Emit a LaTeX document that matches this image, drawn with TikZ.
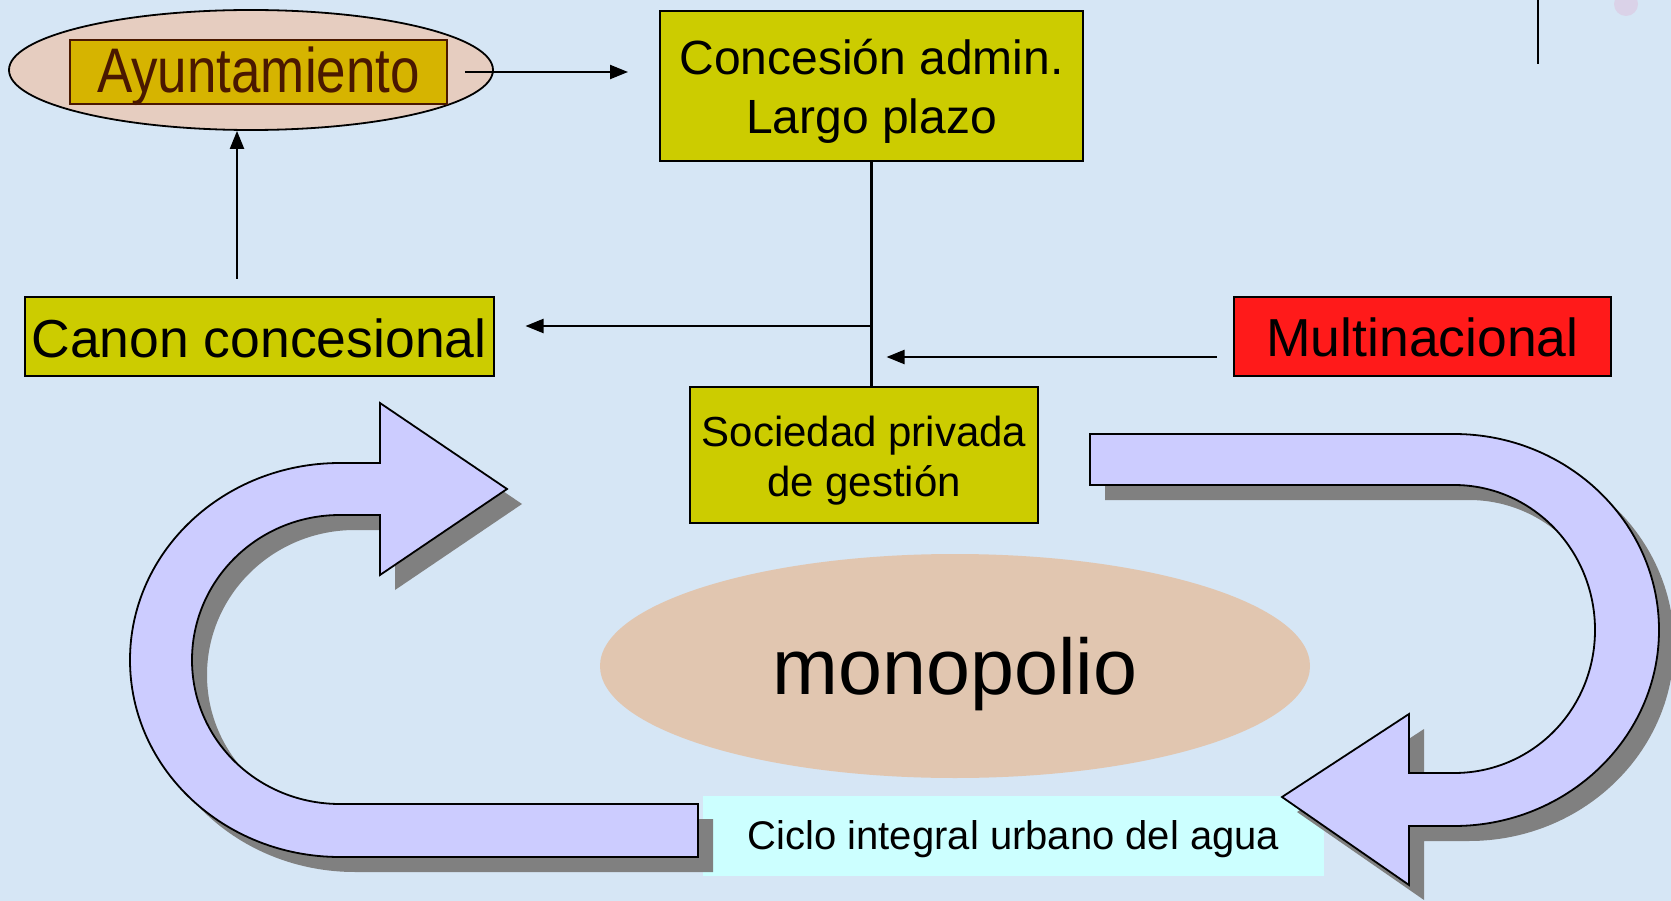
\documentclass[tikz,border=0pt]{standalone}
\usepackage{fontspec}
\setmainfont{Liberation Sans}
\usetikzlibrary{arrows.meta,shapes.geometric}
\definecolor{bgblue}{RGB}{214,230,245}
\definecolor{boxyellow}{RGB}{204,204,0}
\definecolor{ayugold}{RGB}{214,180,0}
\definecolor{ayubrown}{RGB}{74,24,0}
\definecolor{ayuell}{RGB}{230,205,192}
\definecolor{monotan}{RGB}{225,198,176}
\definecolor{multired}{RGB}{255,26,26}
\definecolor{cicloblue}{RGB}{204,255,255}
\definecolor{bandblue}{RGB}{204,204,255}
\definecolor{shadowgray}{RGB}{128,128,128}
\definecolor{pinkdot}{RGB}{218,210,232}
\begin{document}
\begin{tikzpicture}[x=1pt,y=-1pt,
  box/.style={draw=black, line width=2pt, fill=boxyellow, inner sep=0pt, align=center},
  txt/.style={inner sep=0pt, align=center},
  conn/.style={line width=2.2pt, -{Triangle[length=18pt,width=14pt]}},
  band/.style={fill=bandblue, draw=black, line width=1.8pt, line join=miter},
  shade/.style={fill=shadowgray}]
\useasboundingbox (0,0) rectangle (1671,901);
\fill[bgblue] (0,0) rectangle (1671,901);

% top-right fragments
\draw[line width=2.5pt] (1538,0) -- (1538,64);
\fill[pinkdot] (1626,4) circle[radius=12];

% monopolio ellipse
\node[ellipse, fill=monotan, minimum width=710pt, minimum height=224pt, inner sep=0pt] (mono) at (955,666) {};
\node[txt, font=\fontsize{79}{90}\selectfont] (monotext) at ([yshift=-8.5pt]mono.center) {monopolio};

% ciclo label
\node[fill=cicloblue, minimum width=621pt, minimum height=80pt, inner sep=0pt] (ciclo) at (1013.5,836) {};
\node[txt, font=\fontsize{40}{48}\selectfont] (ciclotext) at ([yshift=-3pt]ciclo.center) {Ciclo integral urbano del agua};

% shadows of the curved arrows
\begin{scope}[shift={(15,15)}]
\fill[shade] (698,857) -- (340,857) .. controls (224,857) and (130,769) .. (130,660)
  .. controls (130,551) and (224,463) .. (340,463) -- (380,463) -- (380,403) -- (507,489)
  -- (380,575) -- (380,515) -- (340,515) .. controls (258,515) and (192,580) .. (192,660)
  .. controls (192,740) and (258,804) .. (340,804) -- (698,804) -- cycle;
\fill[shade] (1090,434) -- (1454,434) .. controls (1567,434) and (1659,522) .. (1659,630)
  .. controls (1659,738) and (1567,826) .. (1454,826) -- (1409,826) -- (1409,885) -- (1282,797)
  -- (1409,714) -- (1409,773) -- (1454,773) .. controls (1532,773) and (1595,710) .. (1595,630)
  .. controls (1595,550) and (1532,485) .. (1454,485) -- (1090,485) -- cycle;
\end{scope}
% curved arrows
\path[band] (698,857) -- (340,857) .. controls (224,857) and (130,769) .. (130,660)
  .. controls (130,551) and (224,463) .. (340,463) -- (380,463) -- (380,403) -- (507,489)
  -- (380,575) -- (380,515) -- (340,515) .. controls (258,515) and (192,580) .. (192,660)
  .. controls (192,740) and (258,804) .. (340,804) -- (698,804) -- cycle;
\path[band] (1090,434) -- (1454,434) .. controls (1567,434) and (1659,522) .. (1659,630)
  .. controls (1659,738) and (1567,826) .. (1454,826) -- (1409,826) -- (1409,885) -- (1282,797)
  -- (1409,714) -- (1409,773) -- (1454,773) .. controls (1532,773) and (1595,710) .. (1595,630)
  .. controls (1595,550) and (1532,485) .. (1454,485) -- (1090,485) -- cycle;

% Ayuntamiento
\node[ellipse, draw=black, line width=1.8pt, fill=ayuell, minimum width=484pt, minimum height=120pt,
  inner sep=0pt] (ayell) at (251,70) {};
\node[draw=ayubrown, line width=1.5pt, fill=ayugold, minimum width=377pt, minimum height=64pt,
  inner sep=0pt] (ayb) at (258.5,72) {};
\node[txt, text=ayubrown, font=\fontsize{63}{70}\selectfont] (aybtext) at ([yshift=-4pt]ayb.center)
  {\scalebox{0.84}[1]{Ayuntamiento}};

% boxes
\node[box, minimum width=423pt, minimum height=150pt] (conc) at (871.5,86) {};
\node[txt, font=\fontsize{48}{58.6}\selectfont] (conctext) at ([yshift=-5.5pt]conc.center)
  {Concesión admin.\\Largo plazo};
\node[box, minimum width=469pt, minimum height=79pt] (canon) at (259,336.5) {};
\node[txt, font=\fontsize{53.5}{60}\selectfont] (canontext) at ([yshift=-1.5pt]canon.center) {Canon concesional};
\node[box, fill=multired, minimum width=377pt, minimum height=79pt] (multi) at (1422.5,336.5) {};
\node[txt, font=\fontsize{53.5}{60}\selectfont] (multitext) at ([yshift=-1pt]multi.center) {Multinacional};
\node[box, minimum width=347.5pt, minimum height=136pt] (soc) at (864,455) {};
\node[txt, font=\fontsize{42}{50}\selectfont] (soctext) at ([yshift=-5.5pt]soc.center)
  {Sociedad privada\\de gestión};

% connectors
\draw[conn, shorten <=17pt, shorten >=31pt] (ayb.east) -- (conc.west |- ayb.east);
\draw[line width=2.2pt] (conc.south) -- (conc.south |- soc.north);
\draw[conn, shorten >=31pt] (conc.south |- 0,326) -- (canon.east |- 0,326);
\draw[conn, shorten <=16pt, shorten >=15pt] (multi.west |- 0,357) -- (conc.south |- 0,357);
\draw[conn, shorten <=17pt] (canon.north -| 237,0) -- (ayell.south -| 237,0);
\end{tikzpicture}
\end{document}
